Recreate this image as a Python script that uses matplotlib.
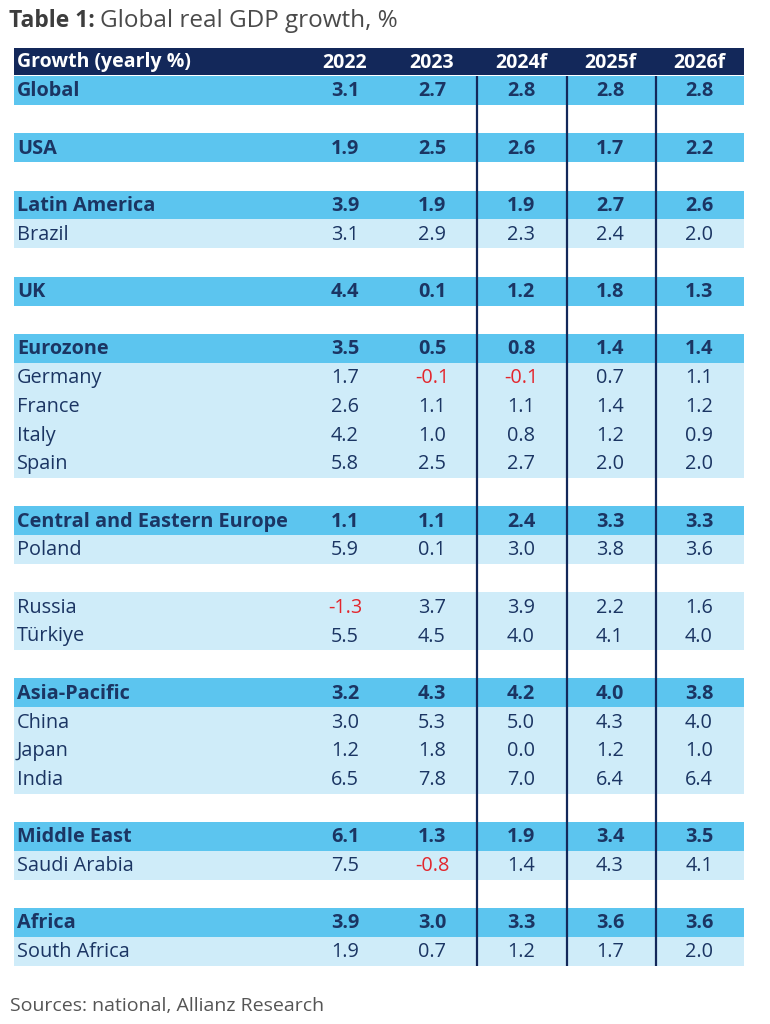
import numpy as np
import matplotlib.pyplot as plt

# table contents, one entry per line of the table (None = blank spacer line)
colunas = ['2022', '2023', '2024f', '2025f', '2026f']
rotulos = ['Global', None, 'USA', None, 'Latin America', 'Brazil', None, 'UK', None,
           'Eurozone', 'Germany', 'France', 'Italy', 'Spain', None,
           'Central and Eastern Europe', 'Poland', None, 'Russia', 'Türkiye', None,
           'Asia-Pacific', 'China', 'Japan', 'India', None,
           'Middle East', 'Saudi Arabia', None, 'Africa', 'South Africa']
regioes = ['Global', 'USA', 'Latin America', 'UK', 'Eurozone',
           'Central and Eastern Europe', 'Asia-Pacific', 'Middle East', 'Africa']
valores = {
    'Global': [3.1, 2.7, 2.8, 2.8, 2.8],
    'USA': [1.9, 2.5, 2.6, 1.7, 2.2],
    'Latin America': [3.9, 1.9, 1.9, 2.7, 2.6],
    'Brazil': [3.1, 2.9, 2.3, 2.4, 2.0],
    'UK': [4.4, 0.1, 1.2, 1.8, 1.3],
    'Eurozone': [3.5, 0.5, 0.8, 1.4, 1.4],
    'Germany': [1.7, -0.1, -0.1, 0.7, 1.1],
    'France': [2.6, 1.1, 1.1, 1.4, 1.2],
    'Italy': [4.2, 1.0, 0.8, 1.2, 0.9],
    'Spain': [5.8, 2.5, 2.7, 2.0, 2.0],
    'Central and Eastern Europe': [1.1, 1.1, 2.4, 3.3, 3.3],
    'Poland': [5.9, 0.1, 3.0, 3.8, 3.6],
    'Russia': [-1.3, 3.7, 3.9, 2.2, 1.6],
    'Türkiye': [5.5, 4.5, 4.0, 4.1, 4.0],
    'Asia-Pacific': [3.2, 4.3, 4.2, 4.0, 3.8],
    'China': [3.0, 5.3, 5.0, 4.3, 4.0],
    'Japan': [1.2, 1.8, 0.0, 1.2, 1.0],
    'India': [6.5, 7.8, 7.0, 6.4, 6.4],
    'Middle East': [6.1, 1.3, 1.9, 3.4, 3.5],
    'Saudi Arabia': [7.5, -0.8, 1.4, 4.3, 4.1],
    'Africa': [3.9, 3.0, 3.3, 3.6, 3.6],
    'South Africa': [1.9, 0.7, 1.2, 1.7, 2.0],
}

cor_cab = '#13285a'
cor_forte = '#5cc5ef'
cor_fraca = '#cfecf9'
cor_texto = '#1b3563'
cor_neg = '#e3262d'
fonte = 'Open Sans'

fig = plt.figure(figsize=(7.7, 10.24), dpi=100)
ax = fig.add_axes([0, 0, 1, 1])
ax.set_xlim(0, 770)
ax.set_ylim(1024, 0)
ax.axis('off')

esq, dir_ = 14, 744
passo = 28.7
y0 = 61.5
x_col = [345, 432, 521, 610, 699]

# header
ax.barh(y0, dir_ - esq, left=esq, height=passo - 1, color=cor_cab)
ax.text(17, y0 + 1, 'Growth (yearly %)', color='white', fontsize=14,
        fontweight='bold', family=fonte, va='center')
for x, c in zip(x_col, colunas):
    ax.text(x, y0 + 1, c, color='white', fontsize=14, fontweight='bold',
            family=fonte, va='center', ha='center')

for i, nome in enumerate(rotulos):
    y = y0 + (i + 1) * passo
    if nome is None:
        continue
    forte = nome in regioes
    ax.barh(y, dir_ - esq, left=esq, height=passo + 0.3,
            color=cor_forte if forte else cor_fraca)
    peso = 'bold' if forte else 'normal'
    ax.text(17, y + 1, nome, color=cor_texto, fontsize=14.3, fontweight=peso,
            family=fonte, va='center')
    for x, v in zip(x_col, valores[nome]):
        ax.text(x, y + 1, f'{v:.1f}', color=cor_neg if v < 0 else cor_texto,
                fontsize=14.3, fontweight=peso, family=fonte, va='center', ha='center')

topo = y0 + passo / 2
fundo = y0 + len(rotulos) * passo + passo / 2
ax.vlines([477, 567, 656], topo, fundo, color=cor_cab, lw=1.6)

ax.text(9, 21, 'Table 1:', fontsize=16.5, fontweight='bold', color='#3d3d3d',
        family=fonte, va='center')
ax.text(100, 21, 'Global real GDP growth, %', fontsize=17.5, color='#4a4a4a',
        family=fonte, va='center')
ax.text(10, 1006, 'Sources: national, Allianz Research', fontsize=14, color='#555555',
        family=fonte, va='center')

plt.savefig('out.png', dpi=100)
